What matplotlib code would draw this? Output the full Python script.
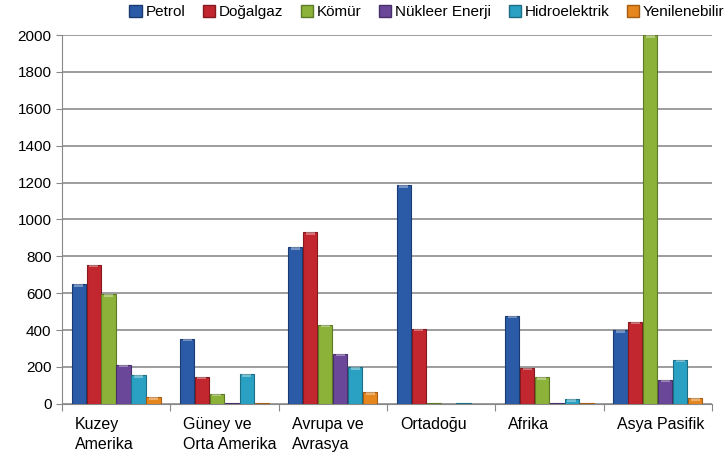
import numpy as np
import matplotlib.pyplot as plt
from matplotlib.patches import Patch

plt.rcParams['font.family'] = ['Liberation Sans', 'DejaVu Sans']

bolgeler = ["Kuzey\nAmerika", "Güney ve\nOrta Amerika", "Avrupa ve\nAvrasya",
            "Ortadoğu", "Afrika", "Asya Pasifik"]
kaynaklar = ["Petrol", "Doğalgaz", "Kömür", "Nükleer Enerji", "Hidroelektrik", "Yenilenebilir"]

petrol = [650, 352, 850, 1185, 477, 400]
dogalgaz = [755, 146, 932, 407, 195, 445]
komur = [596, 54, 428, 2, 145, 2000]
nukleer = [211, 3, 271, 1, 3, 130]
hidro = [155, 160, 200, 3, 25, 240]
yenilenebilir = [35, 3, 62, 1, 2, 30]

seriler = [petrol, dogalgaz, komur, nukleer, hidro, yenilenebilir]
renkler = ["#2B5BA6", "#C2262E", "#8CB23A", "#6B479A", "#2AA0C2", "#E5861F"]
kenarlar = ["#1A3C73", "#841A1F", "#5E7A25", "#47306A", "#1B6E86", "#A65C12"]

fig = plt.figure(figsize=(7.28, 4.62), dpi=100)
ax = fig.add_axes([0.085, 0.126, 0.893, 0.798])

x = np.arange(len(bolgeler))
w = 0.138
for k, (vals, c, e) in enumerate(zip(seriler, renkler, kenarlar)):
    pos = x + (k - 2.5) * w
    ax.bar(pos, vals, width=w * 0.95, color=c, edgecolor=e, linewidth=0.8, zorder=3)
    # light cap at the top of each bar
    cap = [14 if v > 20 else 0 for v in vals]
    ax.bar(pos, cap, bottom=[min(v, 2000) - 14 for v in vals], width=w * 0.6,
           color="white", alpha=0.35, linewidth=0, zorder=4)

ax.set_xlim(-0.5, 5.5)
ax.set_ylim(0, 2000)
ax.set_yticks(np.arange(0, 2001, 200))
ax.tick_params(axis="y", labelsize=11, length=4, color="#888888")
ax.yaxis.grid(True, color="#8c8c8c", linewidth=1.2, zorder=0)
ax.set_axisbelow(True)

ax.set_xticks(np.arange(-0.5, 5.6, 1))
ax.set_xticklabels([])
ax.tick_params(axis="x", length=5, color="#888888")
for i, lab in enumerate(bolgeler):
    ax.text(i - 0.38, -0.035, lab, transform=ax.get_xaxis_transform(),
            ha="left", va="top", fontsize=11.5, linespacing=1.45)

for s in ["top", "right"]:
    ax.spines[s].set_visible(False)
ax.spines["left"].set_color("#888888")
ax.spines["bottom"].set_color("#888888")

handles = [Patch(facecolor=c, edgecolor=e) for c, e in zip(renkler, kenarlar)]
fig.legend(handles, kaynaklar, loc="upper left", bbox_to_anchor=(0.163, 1.012), ncol=6,
           frameon=False, fontsize=11, handlelength=0.8, handleheight=0.8,
           handletextpad=0.25, columnspacing=1.15, borderaxespad=0.3)

fig.savefig("out.png", dpi=100)
